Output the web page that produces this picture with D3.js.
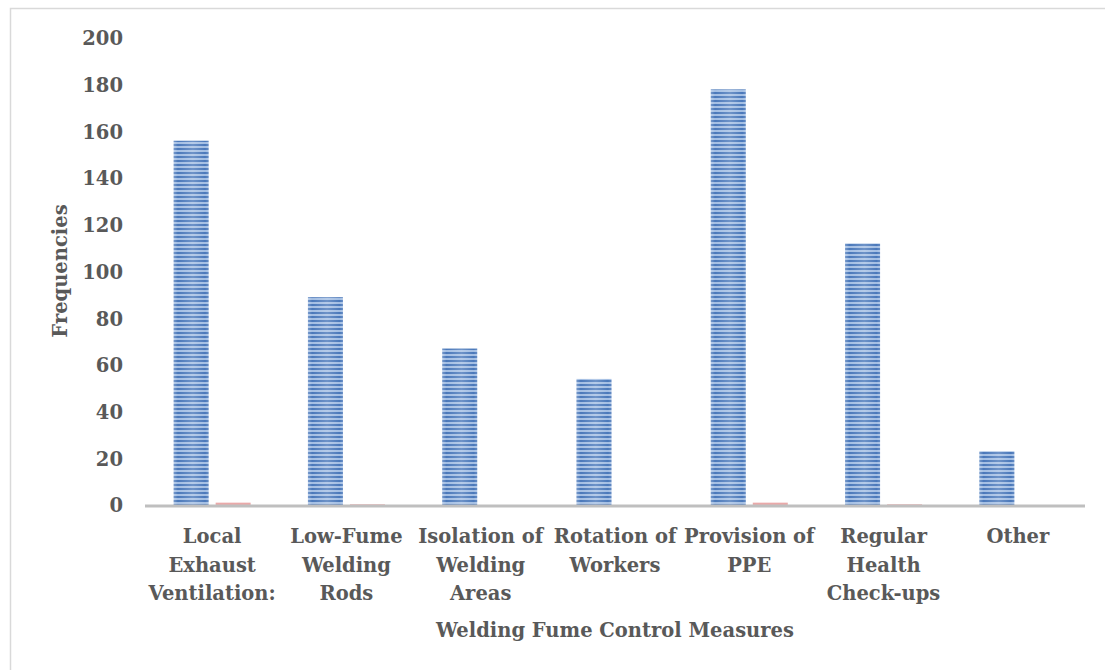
<!DOCTYPE html>
<html><head><meta charset="utf-8">
<script src="https://cdn.jsdelivr.net/npm/d3@7"></script>
<style>
html,body{margin:0;padding:0;background:#fff;}
svg{display:block;}
text{font-family:"DejaVu Serif",serif;font-weight:bold;fill:#595959;}
</style></head>
<body>
<script>
const categories = ["Local Exhaust Ventilation:", "Low-Fume Welding Rods", "Isolation of Welding Areas", "Rotation of Workers", "Provision of PPE", "Regular Health Check-ups", "Other"];
const categoryLines = [["Local","Exhaust","Ventilation:"],["Low-Fume","Welding","Rods"],["Isolation of","Welding","Areas"],["Rotation of","Workers"],["Provision of","PPE"],["Regular","Health","Check-ups"],["Other"]];
const series1 = [156, 89, 67, 54, 178, 112, 23];
const series2 = [1, 0.3, 0, 0, 1, 0.3, 0];
const yTicks = [0, 20, 40, 60, 80, 100, 120, 140, 160, 180, 200];

const W = 1105, H = 670;
const m = {left:145, right:20, top:38, bottom:165};
const svg = d3.select("body").append("svg").attr("width", W).attr("height", H);

svg.append("rect").attr("x",10.5).attr("y",8.5).attr("width",W).attr("height",H)
  .attr("fill","none").attr("stroke","#d9d9d9").attr("stroke-width",1.5);

const defs = svg.append("defs");
const pat = defs.append("pattern").attr("id","stripes").attr("patternUnits","userSpaceOnUse")
  .attr("width",8).attr("height",4);
pat.append("rect").attr("width",8).attr("height",4).attr("fill","#4a78ba");
pat.append("rect").attr("y",2.2).attr("width",8).attr("height",1.6).attr("fill","#b9cfee");
const grad = defs.append("linearGradient").attr("id","shade").attr("x1","0").attr("x2","1").attr("y1","0").attr("y2","0");
grad.append("stop").attr("offset","0").attr("stop-color","#fff").attr("stop-opacity",0.25);
grad.append("stop").attr("offset","0.12").attr("stop-color","#fff").attr("stop-opacity",0);
grad.append("stop").attr("offset","0.55").attr("stop-color","#fff").attr("stop-opacity",0.2);
grad.append("stop").attr("offset","0.9").attr("stop-color","#fff").attr("stop-opacity",0);
grad.append("stop").attr("offset","1").attr("stop-color","#fff").attr("stop-opacity",0.15);

const x = d3.scaleBand().domain(categories).range([m.left, W - m.right]).paddingInner(0).paddingOuter(0);
const y = d3.scaleLinear().domain([0,200]).range([H - m.bottom, m.top]);

const barW = 35, gap = 7;

const g = svg.append("g");
categories.forEach((c,i)=>{
  const cx = x(c) + x.bandwidth()/2;
  const x1 = cx - gap/2 - barW;
  g.append("rect").attr("x",x1).attr("y",y(series1[i])).attr("width",barW)
    .attr("height",y(0)-y(series1[i])).attr("fill","url(#stripes)");
  g.append("rect").attr("x",x1).attr("y",y(series1[i])).attr("width",barW)
    .attr("height",y(0)-y(series1[i])).attr("fill","url(#shade)");
  if (series2[i] > 0) {
    g.append("rect").attr("x",cx + gap/2).attr("y",y(series2[i])).attr("width",barW)
      .attr("height",y(0)-y(series2[i])).attr("fill","#e8a0a0").attr("opacity",0.9);
  }
});

// x axis line
svg.append("line").attr("x1",m.left).attr("x2",W - m.right).attr("y1",y(0)+1).attr("y2",y(0)+1)
  .attr("stroke","#bfbfbf").attr("stroke-width",3);

// y axis labels
const yAxis = d3.axisLeft(y).tickValues(yTicks).tickSize(0).tickPadding(22);
const ya = svg.append("g").attr("transform",`translate(${m.left},0)`).call(yAxis);
ya.select(".domain").remove();
ya.selectAll("text").attr("font-size",19.5).attr("dy","0.35em")
  .style("font-family",'"DejaVu Serif",serif').style("font-weight","bold").attr("fill","#595959");

// x category labels
categories.forEach((c,i)=>{
  const cx = x(c) + x.bandwidth()/2;
  const t = svg.append("text").attr("text-anchor","middle").attr("font-size",19.5);
  categoryLines[i].forEach((ln,j)=>{
    t.append("tspan").attr("x",cx).attr("y",543 + j*28.5).text(ln);
  });
});

svg.append("text").attr("x",615).attr("y",637).attr("text-anchor","middle").attr("font-size",19.5)
  .text("Welding Fume Control Measures");
svg.append("text").attr("transform","translate(67,271) rotate(-90)").attr("text-anchor","middle")
  .attr("font-size",19.5).text("Frequencies");
</script>
</body></html>
